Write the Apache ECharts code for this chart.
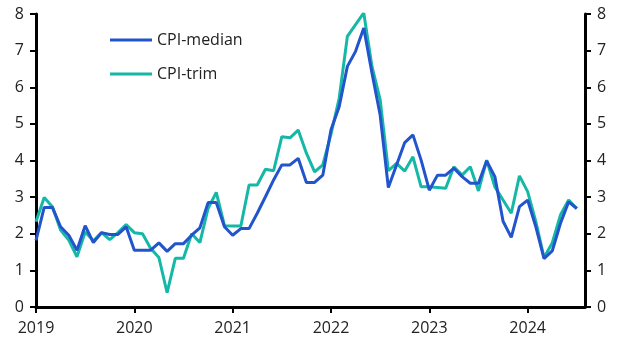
<!DOCTYPE html>
<html><head><meta charset="utf-8">
<script src="https://cdn.jsdelivr.net/npm/echarts@6/dist/echarts.min.js"></script>
<style>html,body{margin:0;padding:0;background:#fff}#c{width:627px;height:351px}</style>
</head><body><div id="c"></div>
<script>
// Monthly data from Jan 2019 to Jul 2024 (month index 0 = Jan 2019)
const yearTicks = ['2019','2020','2021','2022','2023','2024'];
const cpiMedian = [1.82,2.72,2.72,2.19,1.96,1.55,2.22,1.76,2.03,1.98,1.98,2.19,
 1.55,1.55,1.55,1.75,1.52,1.73,1.73,1.96,2.16,2.85,2.85,2.19,
 1.96,2.14,2.14,2.56,3.01,3.47,3.88,3.88,4.06,3.40,3.40,3.60,
 4.84,5.47,6.57,6.98,7.62,6.39,5.24,3.26,3.88,4.49,4.70,4.01,
 3.19,3.60,3.60,3.79,3.56,3.38,3.38,3.99,3.56,2.34,1.90,2.74,
 2.92,2.19,1.32,1.53,2.28,2.87,2.69];
const cpiTrim = [2.33,2.99,2.74,2.10,1.83,1.37,2.05,1.81,2.03,1.84,2.03,2.25,
 2.03,2.00,1.60,1.35,0.39,1.33,1.33,2.00,1.76,2.69,3.13,2.22,
 2.21,2.21,3.33,3.33,3.76,3.72,4.65,4.62,4.83,4.20,3.69,3.88,
 4.72,5.70,7.39,7.71,8.03,6.57,5.66,3.72,3.92,3.71,4.10,3.28,
 3.28,3.26,3.24,3.83,3.60,3.83,3.17,4.01,3.28,2.92,2.56,3.58,
 3.15,2.33,1.35,1.75,2.51,2.92,2.69];
const seriesNames = ['CPI-median','CPI-trim'];
const colors = ['#2254CC','#15B8A6'];
const toPairs = a => a.map((v,i)=>[i,v]);
const font = '"Open Sans", "Noto Sans", sans-serif';
const yAxisBase = {
  type:'value', min:0, max:8, interval:1,
  axisLine:{show:true, lineStyle:{color:'#000', width:3}},
  axisTick:{show:true, length:6, lineStyle:{color:'#000', width:2}},
  axisLabel:{color:'#222', fontSize:16, fontFamily:font, margin:12},
  splitLine:{show:false}
};
const chart = echarts.init(document.getElementById('c'));
chart.setOption({
  animation:false,
  grid:{left:36, right:42, top:14, bottom:44, containLabel:false},
  legend:{
    left:110, top:32, orient:'vertical', itemGap:18, padding:0,
    itemWidth:42, itemHeight:3, icon:'rect',
    textStyle:{fontSize:16, fontFamily:font, color:'#222'},
    data:seriesNames
  },
  xAxis:{
    type:'value', min:0, max:67, interval:12,
    axisLine:{show:true, onZero:false, lineStyle:{color:'#000', width:3}},
    axisTick:{show:true, length:6, lineStyle:{color:'#000', width:2}},
    axisLabel:{color:'#222', fontSize:16, fontFamily:font, margin:13,
      showMaxLabel:false,
      formatter:v => (v%12===0 && v/12 < yearTicks.length) ? yearTicks[v/12] : ''},
    splitLine:{show:false}
  },
  yAxis:[
    Object.assign({}, yAxisBase, {position:'left'}),
    Object.assign({}, yAxisBase, {position:'right'})
  ],
  series:[
    {name:seriesNames[0], type:'line', data:toPairs(cpiMedian), showSymbol:false, symbol:'none',
     lineStyle:{color:colors[0], width:3}, itemStyle:{color:colors[0]}, z:2},
    {name:seriesNames[1], type:'line', data:toPairs(cpiTrim), showSymbol:false, symbol:'none',
     lineStyle:{color:colors[1], width:3}, itemStyle:{color:colors[1]}, z:1}
  ]
});
</script></body></html>
